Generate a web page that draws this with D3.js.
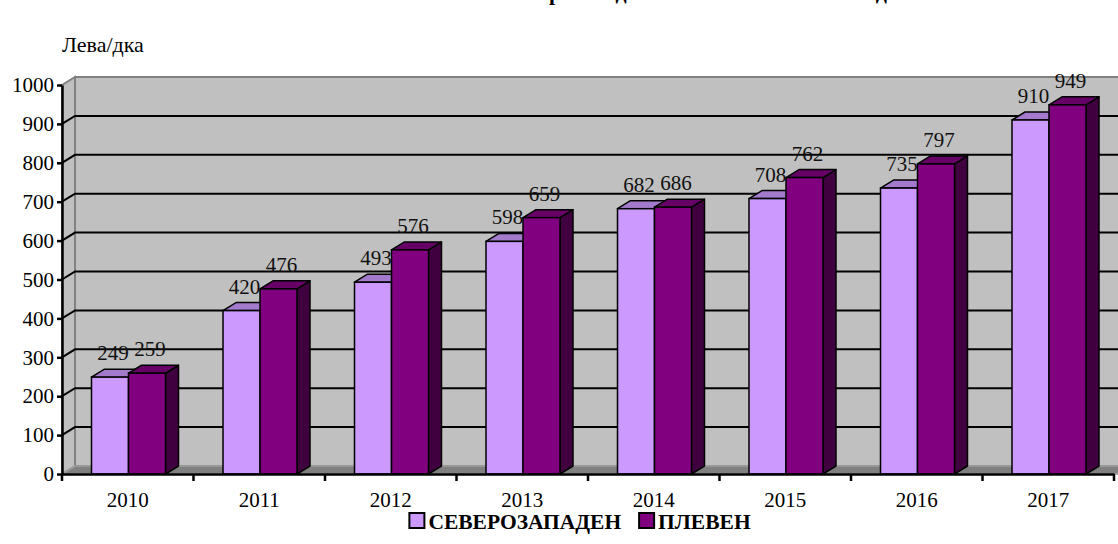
<!DOCTYPE html>
<html><head><meta charset="utf-8">
<script src="https://cdn.jsdelivr.net/npm/d3@7"></script>
<style>body{margin:0;background:#fff}</style>
</head><body><svg id="c"></svg>
<script>
// data
const years = ["2010","2011","2012","2013","2014","2015","2016","2017"];
const severozapaden = [249,420,493,598,682,708,735,910];
const pleven = [259,476,576,659,686,762,797,949];
const seriesNames = ["СЕВЕРОЗАПАДЕН","ПЛЕВЕН"];
const yTicks = [0,100,200,300,400,500,600,700,800,900,1000];

const W = 1118, H = 544;
const font = "'Liberation Serif', 'Times New Roman', serif";
const DX = 13, DY = 8; // 3d depth offset
const colors = {
  "СЕВЕРОЗАПАДЕН": {front: "#cc99ff", top: "#a37acc", side: "#664d80"},
  "ПЛЕВЕН": {front: "#800080", top: "#660066", side: "#400040"}
};

const svg = d3.select("#c").attr("width", W).attr("height", H)
  .style("font-family", font);

const x = d3.scaleBand().domain(years).range([62, 1114]);
const xs = d3.scaleBand().domain(seriesNames).range([29.5, 103.5]);
const y = d3.scaleLinear().domain([0, 1000]).range([474, 85]);

const rows = years.map((yr, i) => ({year: yr, vals: [severozapaden[i], pleven[i]]}));

// title (cut off at the top, as in the original)
const title = svg.append("text")
  .attr("y", 0)
  .style("font-family", font).attr("font-weight", "bold").attr("font-size", "22px")
  .text("Рента в Северозападен и област Плевен в лв./дка");
const rIdx = title.text().indexOf("р");
const rPos = title.node().getStartPositionOfChar(rIdx).x;
title.attr("x", 549 - rPos);

svg.append("text").attr("x", 62).attr("y", 52).style("font-family", font)
  .attr("font-size", "22px").text("Лева/дка");

// walls
const x0 = x.range()[0], x1 = x.range()[1];
const yb = y(0), yt = y(1000);
svg.append("rect")
  .attr("x", x0 + DX).attr("y", yt - DY)
  .attr("width", W - x0 - DX + 5).attr("height", yb - yt)
  .attr("fill", "#c0c0c0").attr("stroke", "#808080").attr("stroke-width", 2);
svg.append("polygon")
  .attr("points", [[x0, yb], [x0, yt], [x0 + DX, yt - DY], [x0 + DX, yb - DY]].join(" "))
  .attr("fill", "#c0c0c0").attr("stroke", "#808080").attr("stroke-width", 2);
svg.append("polygon")
  .attr("points", [[x0, yb], [x1 + 10, yb], [x1 + 10 + DX, yb - DY], [x0 + DX, yb - DY]].join(" "))
  .attr("fill", "#808080").attr("stroke", "#a0a0a0").attr("stroke-width", 1.5);

// gridlines
svg.append("g").selectAll("path")
  .data(yTicks.filter(v => v > 0 && v < 1000))
  .join("path")
  .attr("d", v => `M${x0},${y(v)}L${x0 + DX},${y(v) - DY}L${W + 5},${y(v) - DY}`)
  .attr("fill", "none").attr("stroke", "#000").attr("stroke-width", 2);

// bars
const groups = svg.append("g").selectAll("g")
  .data(rows).join("g")
  .attr("transform", d => `translate(${x(d.year)},0)`);

seriesNames.forEach((s, si) => {
  const w = xs.bandwidth();
  const bx = xs(s);
  const c = colors[s];
  groups.append("polygon")
    .attr("points", d => {
      const v = y(d.vals[si]);
      return [[bx + w, v], [bx + w + DX, v - DY], [bx + w + DX, yb - DY], [bx + w, yb]].join(" ");
    })
    .attr("fill", c.side).attr("stroke", "#000").attr("stroke-width", 1.5).attr("stroke-linejoin", "round");
  groups.append("polygon")
    .attr("points", d => {
      const v = y(d.vals[si]);
      return [[bx, v], [bx + DX, v - DY], [bx + w + DX, v - DY], [bx + w, v]].join(" ");
    })
    .attr("fill", c.top).attr("stroke", "#000").attr("stroke-width", 1.5).attr("stroke-linejoin", "round");
  groups.append("rect")
    .attr("x", bx).attr("y", d => y(d.vals[si]))
    .attr("width", w).attr("height", d => yb - y(d.vals[si]))
    .attr("fill", c.front).attr("stroke", "#000").attr("stroke-width", 1.5);
});

// value labels
seriesNames.forEach((s, si) => {
  groups.append("text")
    .attr("x", xs(s) + xs.bandwidth() / 2 + 3)
    .attr("y", d => y(d.vals[si]) - 17)
    .attr("text-anchor", "middle")
    .style("font-family", font).attr("font-size", "21px").attr("fill", "#111")
    .text(d => d.vals[si]);
});

// y axis
const yAxis = svg.append("g")
  .attr("transform", `translate(${x0},0)`)
  .call(d3.axisLeft(y).tickValues(yTicks).tickFormat(d3.format("d"))
    .tickSize(5).tickPadding(3).tickSizeOuter(0));
yAxis.attr("font-family", null);
yAxis.select(".domain").attr("stroke", "#000").attr("stroke-width", 2.5);
yAxis.selectAll(".tick line").attr("stroke", "#000").attr("stroke-width", 2.5);
yAxis.selectAll(".tick text").style("font-family", font).attr("font-size", "21px").attr("fill", "#000");

// x axis
const xAxis = svg.append("g")
  .attr("transform", `translate(0,${yb})`)
  .call(d3.axisBottom(x).tickSize(0).tickPadding(18));
xAxis.attr("font-family", null);
xAxis.select(".domain").attr("stroke", "#000").attr("stroke-width", 2.5);
xAxis.selectAll(".tick text").style("font-family", font).attr("font-size", "21px").attr("fill", "#000");
xAxis.selectAll("line.sep")
  .data(years.map(yr => x(yr)).concat([x1]))
  .join("line").attr("class", "sep")
  .attr("x1", d => d).attr("x2", d => d)
  .attr("y1", 0).attr("y2", 7)
  .attr("stroke", "#000").attr("stroke-width", 2.5);

// legend, laid out from measured text widths and centred under the plot
const legend = svg.append("g").attr("transform", "translate(0,521)");
let cursor = 0;
seriesNames.forEach((s, i) => {
  const item = legend.append("g").attr("transform", `translate(${cursor},0)`);
  item.append("rect")
    .attr("x", 0).attr("y", -8).attr("width", 15).attr("height", 15)
    .attr("fill", colors[s].front).attr("stroke", "#000").attr("stroke-width", 2);
  const t = item.append("text")
    .attr("x", 19).attr("y", 7.5)
    .style("font-family", font).attr("font-weight", "bold").attr("font-size", "21.5px")
    .text(s);
  cursor += 19 + t.node().getComputedTextLength() + 18;
});
const legW = cursor - 18;
legend.attr("transform", `translate(${580 - legW / 2},521)`);
</script></body></html>
